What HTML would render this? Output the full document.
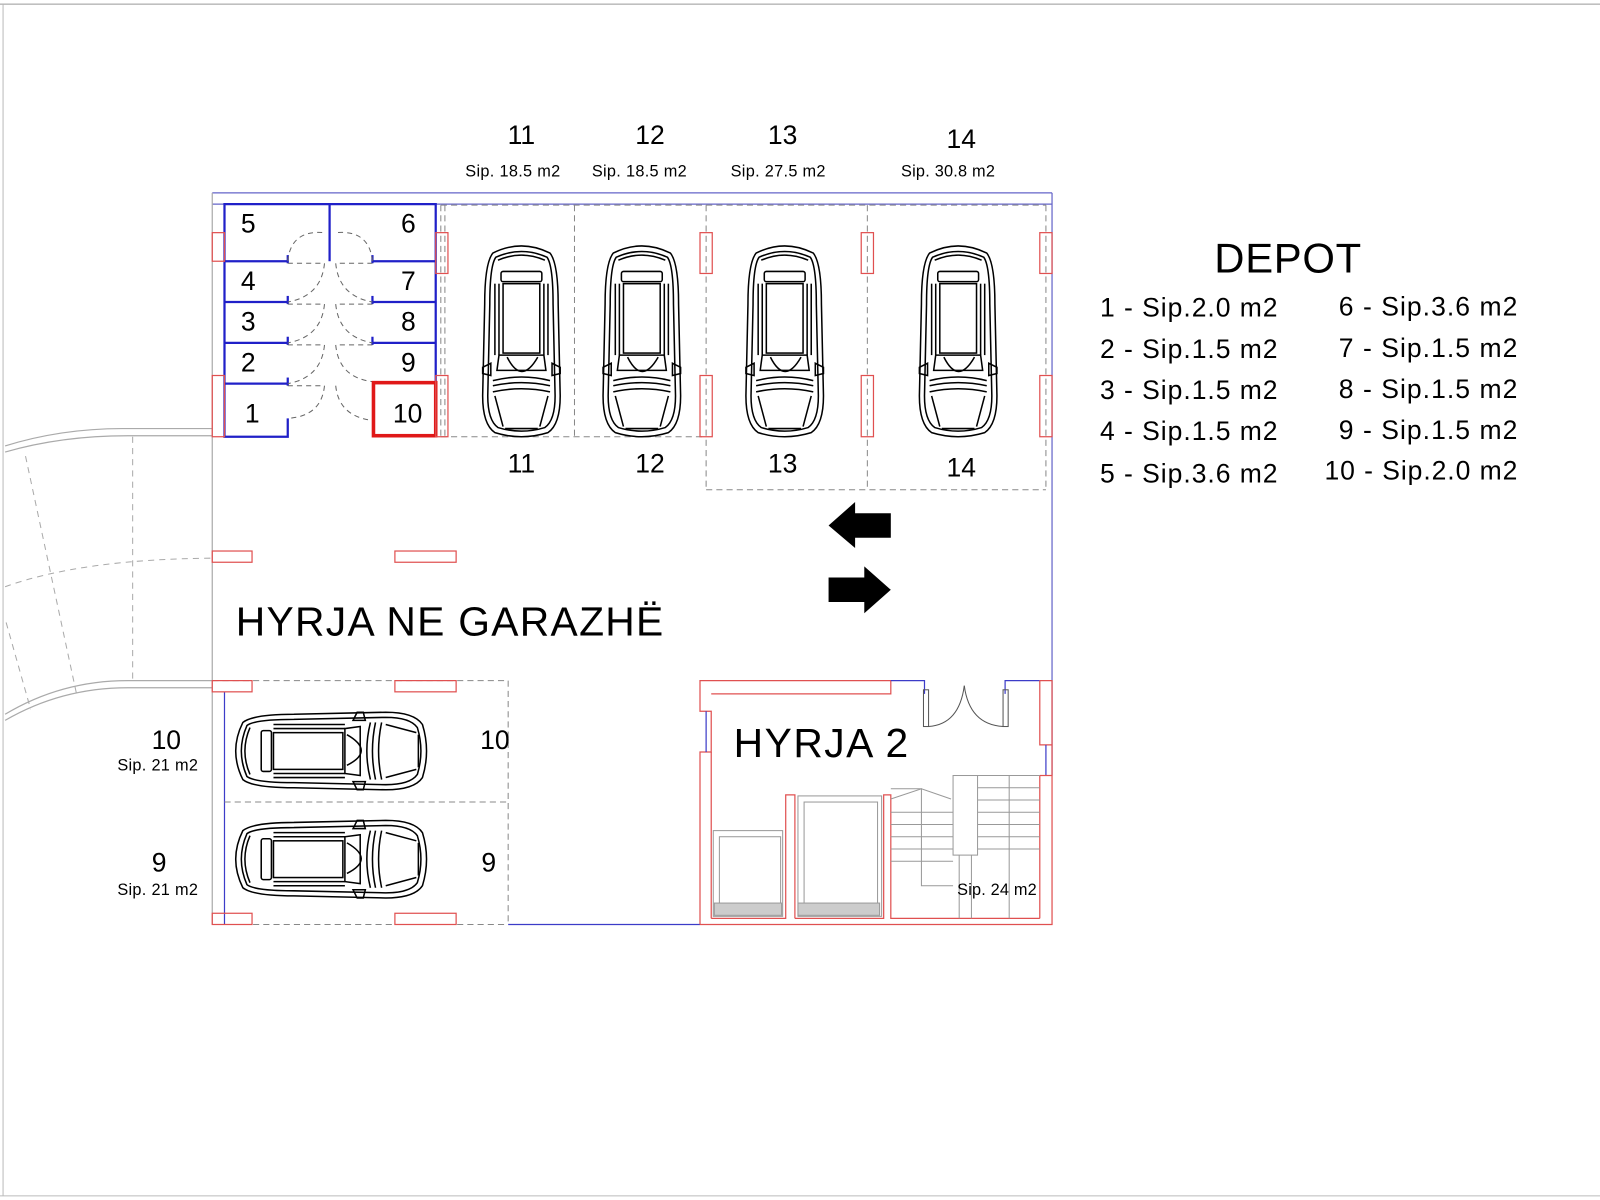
<!DOCTYPE html>
<html><head><meta charset="utf-8"><style>html,body{margin:0;padding:0;background:#fff}svg{display:block}</style></head>
<body>
<svg width="1600" height="1200" viewBox="0 0 1568 1176" xmlns="http://www.w3.org/2000/svg" font-family="Liberation Sans, Arial, sans-serif">
<defs>
<g id="carv" fill="none" stroke="#000" stroke-width="1.5">
  <path d="M10,10 Q38,-4 66,10 Q74,20 74,60 L76,150 Q76,178 64,186 Q38,194 12,186 Q0,178 0,150 L2,60 Q2,20 10,10 Z"/>
  <path d="M13,14 Q38,3 63,14 Q69,22 69,60 L71,150 Q71,174 61,181 Q38,188 15,181 Q5,174 5,150 L7,60 Q7,22 13,14 Z"/>
  <path d="M15,17 Q38,7 61,17"/>
  <rect x="18" y="28" width="40" height="10" rx="2"/>
  <rect x="20" y="40" width="36" height="68"/>
  <line x1="12" y1="40" x2="12" y2="110"/><line x1="64" y1="40" x2="64" y2="110"/>
  <line x1="16" y1="40" x2="16" y2="110"/><line x1="60" y1="40" x2="60" y2="110"/>
  <path d="M16,110 L60,110 L62,125 L14,125 Z"/>
  <path d="M24,112 Q38,140 54,112"/>
  <path d="M0,122 L8,118 L8,130 L0,128 Z"/><path d="M76,122 L68,118 L68,130 L76,128 Z"/>
  <path d="M10,135 Q38,128 66,135"/><path d="M10,140 Q38,134 66,140"/>
  <path d="M10,146 Q38,140 66,146"/>
  <path d="M12,150 L20,180"/><path d="M64,150 L56,180"/>
  <line x1="22" y1="182" x2="54" y2="182"/>
</g>
</defs>

<line x1="0" y1="4" x2="1568" y2="4" stroke="#999" stroke-width="1"/>
<line x1="3" y1="4" x2="3" y2="1172" stroke="#bbb" stroke-width="1"/>
<line x1="0" y1="1172" x2="1568" y2="1172" stroke="#bbb" stroke-width="1"/>

<g fill="none" stroke="#aaa" stroke-width="1.2">
  <path d="M5,437 Q60,420 120,420 L208,420"/>
  <path d="M5,443 Q60,427 125,427 L208,427"/>
  <path d="M5,700 Q60,667 125,667 L208,667"/>
  <path d="M5,706 Q60,674 125,674 L208,674"/>
</g>
<g fill="none" stroke="#aaa" stroke-width="1" stroke-dasharray="6,5">
  <line x1="130" y1="428" x2="130" y2="667"/>
  <path d="M5,575 Q80,548 208,547"/>
  <line x1="25" y1="447" x2="75" y2="680"/>
  <line x1="6" y1="610" x2="30" y2="695"/>
</g>

<g fill="none" stroke-width="1.2">
  <line x1="208" y1="189" x2="1031" y2="189" stroke="#6464c8"/>
  <line x1="208" y1="200" x2="1031" y2="200" stroke="#6464c8"/>
  <line x1="208" y1="189" x2="208" y2="906" stroke="#aaa"/>
  <line x1="1031" y1="189" x2="1031" y2="760" stroke="#6464c8"/>
  <line x1="498" y1="906" x2="686" y2="906" stroke="#3c3cc8"/>
  <line x1="220" y1="678" x2="220" y2="906" stroke="#3c3cc8"/>
</g>

<g fill="none" stroke="#2020c8" stroke-width="2.2">
  <path d="M282,410 L282,428 L220,428 L220,200 L427,200 L427,374"/>
  <line x1="323" y1="200" x2="323" y2="256"/>
  <line x1="220" y1="256" x2="282" y2="256"/><line x1="365" y1="256" x2="427" y2="256"/>
  <line x1="220" y1="296" x2="282" y2="296"/><line x1="365" y1="296" x2="427" y2="296"/>
  <line x1="220" y1="336" x2="282" y2="336"/><line x1="365" y1="336" x2="427" y2="336"/>
  <line x1="220" y1="376" x2="282" y2="376"/>
  <line x1="282" y1="250" x2="282" y2="258"/><line x1="365" y1="250" x2="365" y2="258"/>
  <line x1="282" y1="290" x2="282" y2="298"/><line x1="365" y1="290" x2="365" y2="298"/>
  <line x1="282" y1="330" x2="282" y2="338"/><line x1="365" y1="330" x2="365" y2="338"/>
  <line x1="282" y1="370" x2="282" y2="378"/>
</g>
<g fill="none" stroke="#666" stroke-width="1" stroke-dasharray="5,4">
  <path d="M282,256 Q285,225 318,228"/><path d="M365,256 Q362,225 329,228"/>
  <path d="M282,258 L318,258 Q315,290 282,296"/><path d="M365,258 L329,258 Q332,290 365,296"/>
  <path d="M282,298 L318,298 Q315,330 282,336"/><path d="M365,298 L329,298 Q332,330 365,336"/>
  <path d="M282,338 L318,338 Q315,370 282,376"/><path d="M365,338 L329,338 Q332,370 365,374"/>
  <path d="M282,378 L318,378 Q315,408 282,410"/><path d="M329,378 Q332,408 365,412"/>
</g>
<rect x="366" y="375" width="61" height="52" fill="none" stroke="#e01818" stroke-width="3.5"/>
<g font-size="26" fill="#000">
  <text x="236" y="228">5</text><text x="393" y="228">6</text>
  <text x="236" y="284">4</text><text x="393" y="284">7</text>
  <text x="236" y="324">3</text><text x="393" y="324">8</text>
  <text x="236" y="364">2</text><text x="393" y="364">9</text>
  <text x="240" y="414">1</text><text x="385" y="414">10</text>
</g>

<g fill="none" stroke="#888" stroke-width="1" stroke-dasharray="6,4">
  <line x1="432" y1="201" x2="1025" y2="201"/>
  <line x1="432" y1="201" x2="432" y2="428"/><line x1="436" y1="201" x2="436" y2="428"/>
  <line x1="563" y1="201" x2="563" y2="428"/>
  <line x1="692" y1="201" x2="692" y2="480"/>
  <line x1="850" y1="201" x2="850" y2="480"/>
  <line x1="1025" y1="201" x2="1025" y2="480"/>
  <line x1="432" y1="428" x2="692" y2="428"/>
  <line x1="692" y1="480" x2="1025" y2="480"/>
  <line x1="208" y1="667" x2="498" y2="667"/>
  <line x1="220" y1="786" x2="498" y2="786"/>
  <line x1="498" y1="667" x2="498" y2="906"/>
  <line x1="208" y1="906" x2="498" y2="906"/>
</g>

<g fill="none" stroke="#e05050" stroke-width="1.2">
  <rect x="208" y="228" width="12" height="28"/><rect x="208" y="368" width="12" height="60"/>
  <rect x="427" y="228" width="12" height="40"/><rect x="427" y="368" width="12" height="60"/>
  <rect x="686" y="228" width="12" height="40"/><rect x="686" y="368" width="12" height="60"/>
  <rect x="844" y="228" width="12" height="40"/><rect x="844" y="368" width="12" height="60"/>
  <rect x="1019" y="228" width="12" height="40"/><rect x="1019" y="368" width="12" height="60"/>
  <rect x="208" y="540" width="39" height="11"/><rect x="387" y="540" width="60" height="11"/>
  <rect x="208" y="667" width="39" height="11"/><rect x="387" y="667" width="60" height="11"/>
  <rect x="208" y="895" width="39" height="11"/><rect x="387" y="895" width="60" height="11"/>
</g>

<use href="#carv" x="473" y="238"/>
<use href="#carv" x="591" y="238"/>
<use href="#carv" x="731" y="238"/>
<use href="#carv" x="901" y="238"/>
<g transform="translate(228,774) rotate(-90)"><use href="#carv"/></g>
<g transform="translate(228,880) rotate(-90)"><use href="#carv"/></g>

<g font-size="26" fill="#000" text-anchor="middle">
  <text x="511" y="141">11</text><text x="637" y="141">12</text><text x="767" y="141">13</text><text x="942" y="145">14</text>
  <text x="511" y="463">11</text><text x="637" y="463">12</text><text x="767" y="463">13</text><text x="942" y="467">14</text>
  <text x="163" y="734">10</text><text x="485" y="734">10</text>
  <text x="156" y="854">9</text><text x="479" y="854">9</text>
</g>
<g font-size="16" fill="#000">
  <text x="456" y="173" textLength="93">Sip. 18.5 m2</text>
  <text x="580" y="173" textLength="93">Sip. 18.5 m2</text>
  <text x="716" y="173" textLength="93">Sip. 27.5 m2</text>
  <text x="883" y="173" textLength="92">Sip. 30.8 m2</text>
  <text x="115" y="755" textLength="79">Sip. 21 m2</text>
  <text x="115" y="877" textLength="79">Sip. 21 m2</text>
</g>

<path d="M812,515 L838,492 L838,503 L873,503 L873,527 L838,527 L838,537 Z" fill="#000"/>
<path d="M873,578 L847,555 L847,566 L812,566 L812,590 L847,590 L847,601 Z" fill="#000"/>

<text x="231" y="623" font-size="40" fill="#000" textLength="419">HYRJA NE GARAZHË</text>

<g fill="none" stroke-width="1.2">
  <path d="M686,906 L686,737 L697,737 L697,697 L686,697 L686,667 L873,667 L873,680 L697,680" stroke="#e05050"/>
  <line x1="692" y1="697" x2="692" y2="737" stroke="#3c3cc8"/>
  <path d="M873,667 L906,667 L906,680" stroke="#3c3cc8"/>
  <path d="M985,680 L985,667 L1019,667" stroke="#3c3cc8"/>
  <path d="M1019,667 L1031,667 L1031,906 L686,906" stroke="#e05050"/>
  <path d="M1019,667 L1019,730 L1031,730" stroke="#e05050"/>
  <line x1="1025" y1="730" x2="1025" y2="760" stroke="#3c3cc8"/>
  <path d="M1019,760 L1031,760" stroke="#e05050"/>
  <line x1="1019" y1="760" x2="1019" y2="900" stroke="#e05050"/>
  <path d="M697,900 L770,900 L770,779 L779,779 L779,900" stroke="#e05050"/>
  <path d="M779,900 L866,900 L866,779 L873,779 L873,900 L1019,900" stroke="#e05050"/>
  <line x1="697" y1="737" x2="697" y2="900" stroke="#e05050"/>
</g>
<g fill="none" stroke="#555" stroke-width="1">
  <rect x="905" y="676" width="5" height="36"/><rect x="983" y="676" width="5" height="36"/>
  <path d="M910,712 Q940,710 945,672"/><path d="M983,712 Q950,710 945,672"/>
</g>
<g fill="none" stroke="#999" stroke-width="1">
  <rect x="699" y="814" width="68" height="84"/><rect x="705" y="820" width="60" height="70"/>
  <rect x="782" y="780" width="82" height="118"/><rect x="788" y="786" width="72" height="104"/>
  <rect x="700" y="885" width="66" height="12" fill="#ccc"/><rect x="782" y="885" width="80" height="12" fill="#ccc"/>
  <rect x="934" y="760" width="24" height="78"/>
  <path d="M873,773 L903,773 L903,868 L934,868"/>
  <path d="M873,783 L903,773 L932,783"/>
  <line x1="873" y1="796" x2="934" y2="796"/><line x1="873" y1="808" x2="934" y2="808"/>
  <line x1="873" y1="820" x2="934" y2="820"/><line x1="873" y1="832" x2="934" y2="832"/>
  <line x1="873" y1="844" x2="934" y2="844"/>
  <line x1="958" y1="772" x2="1019" y2="772"/><line x1="958" y1="784" x2="1019" y2="784"/>
  <line x1="958" y1="796" x2="1019" y2="796"/><line x1="958" y1="808" x2="1019" y2="808"/>
  <line x1="958" y1="820" x2="1019" y2="820"/><line x1="958" y1="832" x2="1019" y2="832"/>
  <line x1="989" y1="760" x2="989" y2="900"/>
  <line x1="940" y1="838" x2="940" y2="900"/><line x1="952" y1="838" x2="952" y2="900"/>
  <line x1="958" y1="760" x2="1019" y2="760"/>
</g>
<text x="719" y="742" font-size="40" fill="#000" textLength="171">HYRJA 2</text>
<text x="938" y="877" font-size="16" fill="#000" textLength="78">Sip. 24 m2</text>

<text x="1190" y="267" font-size="41" fill="#000" textLength="144">DEPOT</text>
<g font-size="26" fill="#000">
  <text x="1078" y="310" textLength="174">1 - Sip.2.0 m2</text>
  <text x="1078" y="351" textLength="174">2 - Sip.1.5 m2</text>
  <text x="1078" y="391" textLength="174">3 - Sip.1.5 m2</text>
  <text x="1078" y="431" textLength="174">4 - Sip.1.5 m2</text>
  <text x="1078" y="473" textLength="174">5 - Sip.3.6 m2</text>
  <text x="1312" y="309" textLength="175">6 - Sip.3.6 m2</text>
  <text x="1312" y="350" textLength="175">7 - Sip.1.5 m2</text>
  <text x="1312" y="390" textLength="175">8 - Sip.1.5 m2</text>
  <text x="1312" y="430" textLength="175">9 - Sip.1.5 m2</text>
  <text x="1298" y="470" textLength="189">10 - Sip.2.0 m2</text>
</g>
</svg>
</body></html>
